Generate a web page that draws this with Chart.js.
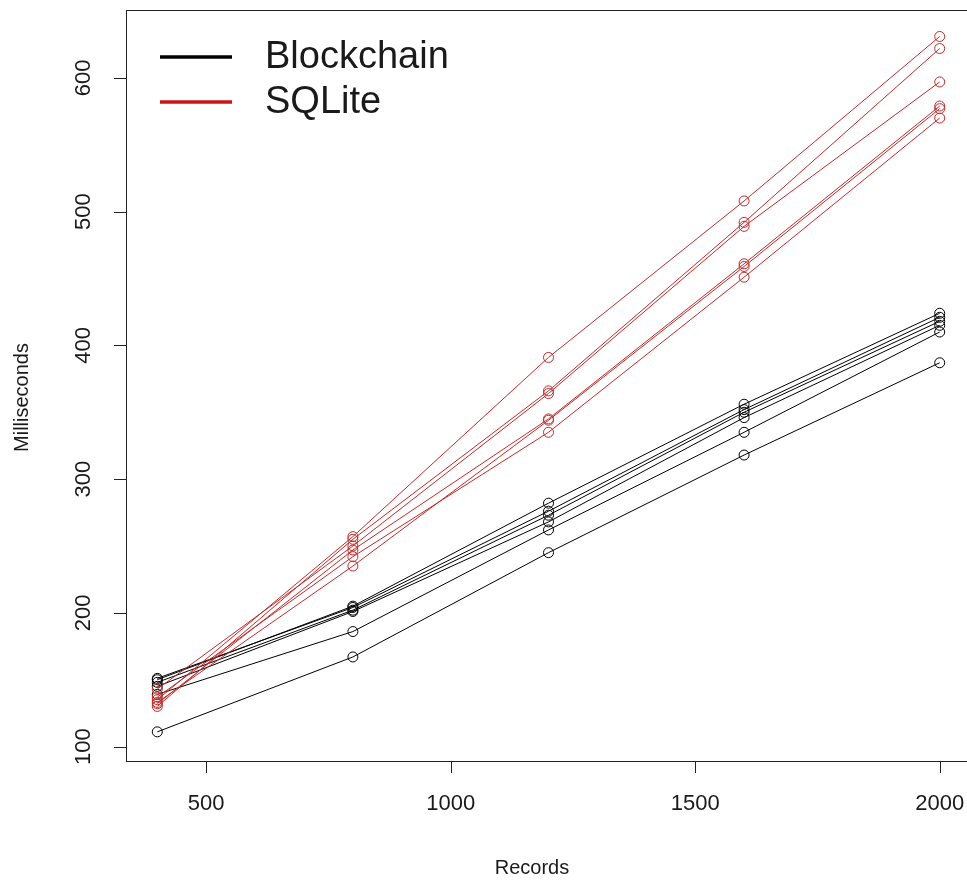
<!DOCTYPE html>
<html lang="en">
<head>
    <meta charset="UTF-8">
    <title>Blockchain vs SQLite</title>
    <script src="https://cdn.jsdelivr.net/npm/chart.js"></script>
    <style>
        html, body {
            margin: 0;
            padding: 0;
            background: #fff;
            overflow: hidden;
        }
        .chart-wrap {
            width: 980px;
            height: 883px;
        }
    </style>
</head>
<body>
    <div class="chart-wrap">
        <canvas id="timingChart"></canvas>
    </div>

    <script>
        // records inserted per run
        const records = [400, 800, 1200, 1600, 2000];

        // milliseconds, one row per run
        const blockchainRuns = [
            [150, 205, 282, 356, 424],
            [151, 204, 276, 352, 421],
            [148, 202, 273, 350, 418],
            [145, 201, 268, 346, 415],
            [139, 186, 262, 335, 410],
            [111, 167, 245, 318, 387]
        ];
        const sqliteRuns = [
            [135, 257, 391, 508, 631],
            [130, 255, 366, 492, 622],
            [143, 250, 364, 489, 597],
            [132, 247, 345, 461, 579],
            [137, 242, 335, 451, 570],
            [133, 235, 344, 459, 577]
        ];

        const xTicks = [500, 1000, 1500, 2000];
        const yTicks = [100, 200, 300, 400, 500, 600];

        const seriesNames = ['Blockchain', 'SQLite'];
        const seriesColors = ['#000000', '#c82828'];

        const FONT = '"Liberation Sans", Arial, sans-serif';
        const INK = '#1a1a1a';

        function makeDataset(row, color) {
            return {
                data: row.map((v, i) => ({ x: records[i], y: v })),
                borderColor: color,
                borderWidth: 1,
                pointRadius: 5,
                pointBorderWidth: 1,
                pointBorderColor: color,
                pointBackgroundColor: 'rgba(0,0,0,0)',
                pointStyle: 'circle',
                showLine: true,
                tension: 0,
                fill: false
            };
        }

        // first dataset is drawn on top, so SQLite goes first
        const datasets = [
            ...sqliteRuns.map(r => makeDataset(r, seriesColors[1])),
            ...blockchainRuns.map(r => makeDataset(r, seriesColors[0]))
        ];

        // base-graphics style frame, ticks, labels and legend
        const rFrame = {
            id: 'rFrame',
            afterDraw(chart) {
                const ctx = chart.ctx;
                const a = chart.chartArea;
                const xs = chart.scales.x;
                const ys = chart.scales.y;
                const tick = 12;

                ctx.save();
                ctx.strokeStyle = '#222';
                ctx.lineWidth = 1;
                ctx.strokeRect(a.left + 0.5, a.top + 0.5, a.right - a.left, a.bottom - a.top);

                ctx.beginPath();
                xTicks.forEach(t => {
                    const px = Math.round(xs.getPixelForValue(t)) + 0.5;
                    ctx.moveTo(px, a.bottom);
                    ctx.lineTo(px, a.bottom + tick);
                });
                yTicks.forEach(t => {
                    const py = Math.round(ys.getPixelForValue(t)) + 0.5;
                    ctx.moveTo(a.left, py);
                    ctx.lineTo(a.left - tick, py);
                });
                ctx.stroke();

                ctx.fillStyle = INK;
                ctx.font = '22px ' + FONT;
                ctx.textAlign = 'center';
                ctx.textBaseline = 'middle';
                xTicks.forEach(t => {
                    ctx.fillText(String(t), xs.getPixelForValue(t), a.bottom + 43);
                });
                yTicks.forEach(t => {
                    ctx.save();
                    ctx.translate(a.left - 42, ys.getPixelForValue(t));
                    ctx.rotate(-Math.PI / 2);
                    ctx.fillText(String(t), 0, 0);
                    ctx.restore();
                });

                ctx.font = '20px ' + FONT;
                ctx.fillText('Records', 532, a.bottom + 107);
                ctx.save();
                ctx.translate(22, (a.top + a.bottom) / 2 + 12);
                ctx.rotate(-Math.PI / 2);
                ctx.fillText('Milliseconds', 0, 0);
                ctx.restore();

                // legend
                ctx.font = '38px ' + FONT;
                ctx.textAlign = 'left';
                seriesNames.forEach((name, i) => {
                    const ly = 57 + i * 45;
                    ctx.strokeStyle = seriesColors[i] === '#000000' ? '#000' : '#cc1414';
                    ctx.lineWidth = 3.5;
                    ctx.beginPath();
                    ctx.moveTo(160, ly);
                    ctx.lineTo(232, ly);
                    ctx.stroke();
                    ctx.fillStyle = INK;
                    ctx.fillText(name, 265, ly + 1);
                });
                ctx.restore();
            }
        };

        new Chart(document.getElementById('timingChart'), {
            type: 'scatter',
            data: { datasets: datasets },
            options: {
                responsive: true,
                maintainAspectRatio: false,
                animation: false,
                devicePixelRatio: 1,
                layout: {
                    padding: { left: 126, right: 9, top: 10, bottom: 122 }
                },
                plugins: {
                    legend: { display: false },
                    tooltip: { enabled: false }
                },
                scales: {
                    x: { type: 'linear', min: 336, max: 2064, display: false },
                    y: { type: 'linear', min: 89.2, max: 650.8, display: false }
                }
            },
            plugins: [rFrame]
        });
    </script>
</body>
</html>
